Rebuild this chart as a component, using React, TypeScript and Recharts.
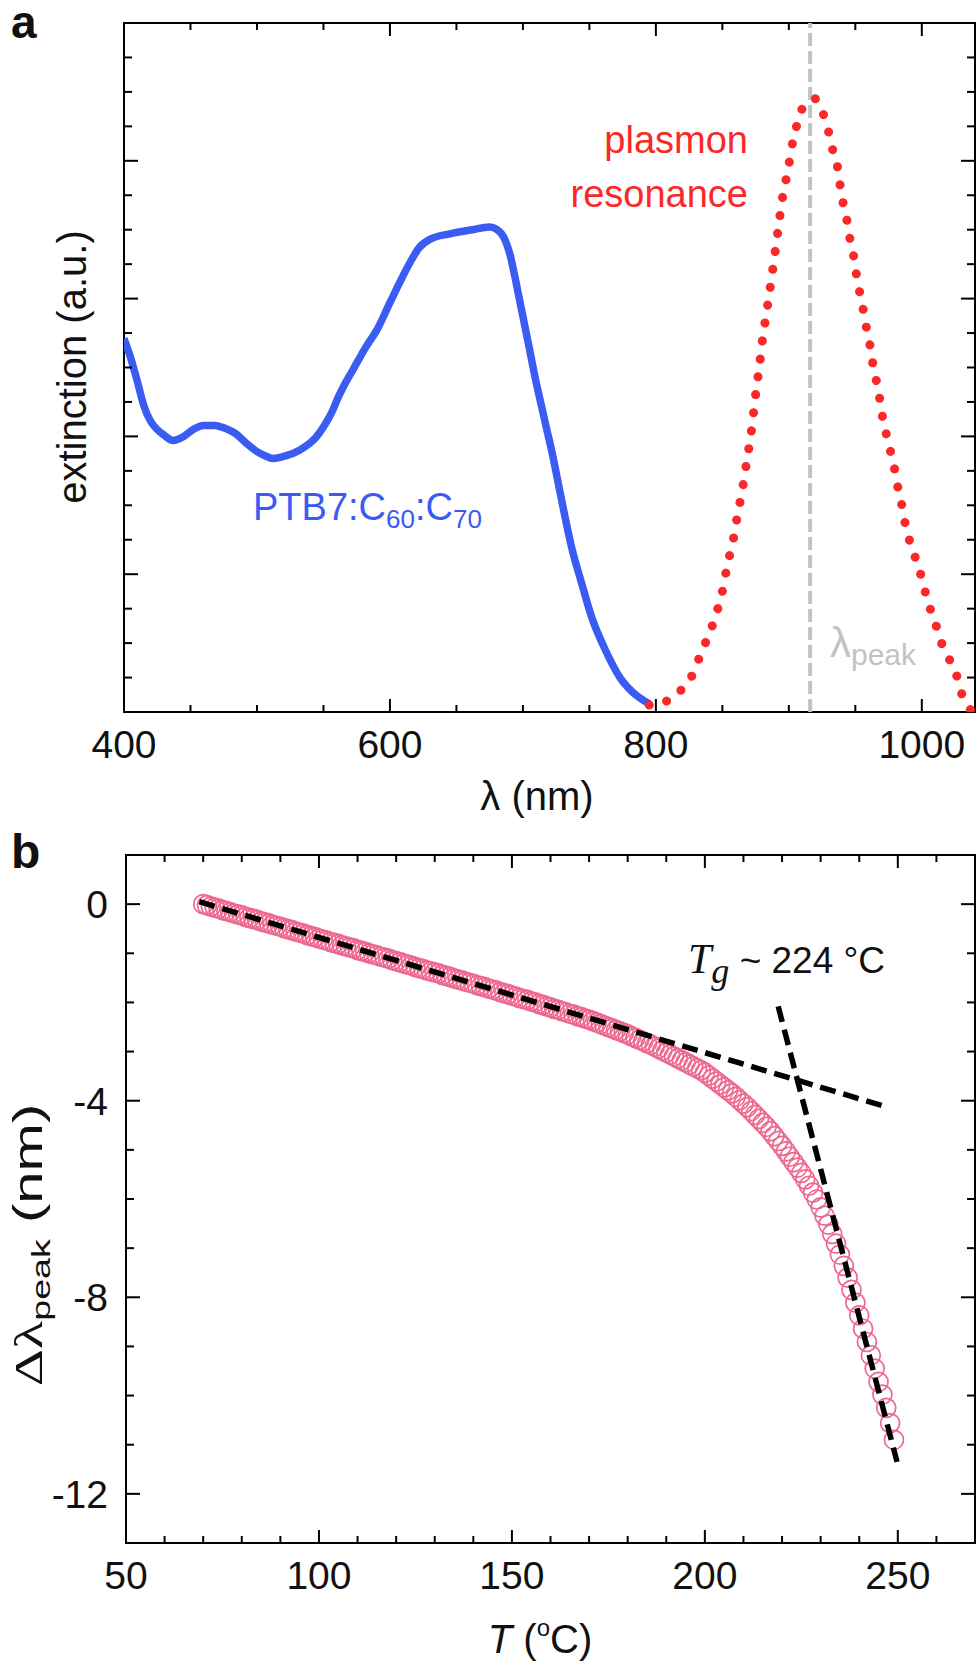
import React from 'react';
import { ComposedChart, Line, Scatter, XAxis, YAxis, ReferenceLine, ReferenceArea } from 'recharts';

const FONT = '"Liberation Sans", Arial, sans-serif';
const SERIF = '"Liberation Serif", "Times New Roman", serif';
const BLUE = '#3b5cf2';
const RED = '#fa2828';
const GREY = '#bfc3c7';
const PINK = '#ee6890';

// ---- panel a: extinction spectrum ----
const blueNm = [400, 405, 410, 415, 420, 425, 430, 437, 445, 452, 460, 468, 476, 484, 492, 500, 506, 512, 522, 532, 545, 552, 557, 560, 565, 572, 582, 590, 600, 607, 615, 622, 630, 645, 662, 675, 683, 690, 695, 700, 705, 710, 714, 717, 722, 727, 732, 737, 744, 752, 762, 773, 783, 795];
const blueExt = [2.71, 2.57, 2.40, 2.22, 2.11, 2.05, 2.01, 1.97, 2.00, 2.05, 2.08, 2.08, 2.06, 2.02, 1.95, 1.89, 1.86, 1.84, 1.86, 1.90, 2.00, 2.10, 2.19, 2.26, 2.36, 2.48, 2.65, 2.77, 2.97, 3.11, 3.26, 3.37, 3.43, 3.47, 3.50, 3.52, 3.48, 3.33, 3.11, 2.87, 2.63, 2.39, 2.22, 2.09, 1.88, 1.64, 1.40, 1.18, 0.94, 0.68, 0.45, 0.25, 0.14, 0.06];

const redNm = [795, 800, 804, 810, 814, 818, 823, 829, 834, 839, 844, 848, 851, 853, 856, 859, 861, 864, 866, 868, 870, 872, 874, 876, 878, 880, 882, 884, 886, 888, 890, 893, 895, 897, 900, 902, 905, 908, 912, 916, 920, 925, 929, 932, 936, 938, 940, 943, 945, 948, 950, 952, 955, 957, 960, 962, 964, 967, 969, 971, 974, 977, 980, 982, 985, 987, 990, 994, 998, 1001, 1004, 1007, 1011, 1014, 1019, 1022, 1026, 1029, 1034, 1037];
const redExt = [0.05, 0.05, 0.06, 0.09, 0.11, 0.15, 0.20, 0.30, 0.43, 0.54, 0.67, 0.80, 0.92, 1.03, 1.16, 1.29, 1.41, 1.56, 1.67, 1.80, 1.92, 2.05, 2.22, 2.38, 2.52, 2.69, 2.82, 2.95, 3.08, 3.22, 3.36, 3.58, 3.72, 3.82, 3.97, 4.09, 4.22, 4.33, 4.41, 4.44, 4.45, 4.36, 4.25, 4.11, 3.99, 3.86, 3.73, 3.61, 3.48, 3.35, 3.23, 3.10, 2.98, 2.85, 2.72, 2.60, 2.48, 2.35, 2.23, 2.11, 1.99, 1.87, 1.74, 1.63, 1.50, 1.39, 1.27, 1.15, 1.04, 0.93, 0.82, 0.73, 0.62, 0.52, 0.43, 0.35, 0.27, 0.16, 0.06, 0.01];

const peakNm = 916;
const aXTicks = [400, 450, 500, 550, 600, 650, 700, 750, 800, 850, 900, 950, 1000];
const aYTicks = [0.25, 0.5, 0.75, 1, 1.25, 1.5, 1.75, 2, 2.25, 2.5, 2.75, 3, 3.25, 3.5, 3.75, 4, 4.25, 4.5, 4.75];

// ---- panel b: peak shift vs temperature, one reading per degree ----
const shiftT = [
  70, 71, 72, 73, 74, 75, 76, 77, 78, 79, 80, 81, 82, 83, 84, 85, 86, 87, 88, 89,
  90, 91, 92, 93, 94, 95, 96, 97, 98, 99, 100, 101, 102, 103, 104, 105, 106, 107, 108, 109,
  110, 111, 112, 113, 114, 115, 116, 117, 118, 119, 120, 121, 122, 123, 124, 125, 126, 127, 128, 129,
  130, 131, 132, 133, 134, 135, 136, 137, 138, 139, 140, 141, 142, 143, 144, 145, 146, 147, 148, 149,
  150, 151, 152, 153, 154, 155, 156, 157, 158, 159, 160, 161, 162, 163, 164, 165, 166, 167, 168, 169,
  170, 171, 172, 173, 174, 175, 176, 177, 178, 179, 180, 181, 182, 183, 184, 185, 186, 187, 188, 189,
  190, 191, 192, 193, 194, 195, 196, 197, 198, 199, 200, 201, 202, 203, 204, 205, 206, 207, 208, 209,
  210, 211, 212, 213, 214, 215, 216, 217, 218, 219, 220, 221, 222, 223, 224, 225, 226, 227, 228, 229,
  230, 231, 232, 233, 234, 235, 236, 237, 238, 239, 240, 241, 242, 243, 244, 245, 246, 247, 248, 249,
];
const shiftNm = [
  0.00, -0.02, -0.05, -0.07, -0.09, -0.12, -0.14, -0.16, -0.19, -0.21, -0.23, -0.26, -0.28, -0.30, -0.32, -0.35, -0.37, -0.39, -0.42, -0.44,
  -0.46, -0.49, -0.51, -0.53, -0.56, -0.58, -0.60, -0.63, -0.65, -0.67, -0.70, -0.72, -0.74, -0.77, -0.79, -0.81, -0.84, -0.86, -0.88, -0.90,
  -0.93, -0.95, -0.97, -1.00, -1.02, -1.04, -1.07, -1.09, -1.11, -1.14, -1.16, -1.18, -1.21, -1.23, -1.25, -1.28, -1.30, -1.32, -1.35, -1.37,
  -1.39, -1.41, -1.44, -1.46, -1.48, -1.51, -1.53, -1.55, -1.58, -1.60, -1.62, -1.65, -1.67, -1.69, -1.72, -1.74, -1.76, -1.79, -1.81, -1.83,
  -1.86, -1.88, -1.91, -1.93, -1.95, -1.98, -2.00, -2.03, -2.05, -2.08, -2.10, -2.13, -2.15, -2.18, -2.20, -2.23, -2.25, -2.28, -2.30, -2.33,
  -2.35, -2.38, -2.41, -2.44, -2.47, -2.50, -2.53, -2.56, -2.59, -2.62, -2.65, -2.69, -2.72, -2.76, -2.79, -2.83, -2.86, -2.90, -2.94, -2.98,
  -3.02, -3.06, -3.10, -3.14, -3.18, -3.22, -3.26, -3.30, -3.34, -3.38, -3.43, -3.49, -3.55, -3.61, -3.67, -3.73, -3.79, -3.85, -3.92, -3.99,
  -4.06, -4.13, -4.21, -4.29, -4.37, -4.45, -4.53, -4.62, -4.72, -4.82, -4.92, -5.03, -5.14, -5.25, -5.36, -5.47, -5.60, -5.73, -5.87, -6.01,
  -6.17, -6.34, -6.52, -6.71, -6.91, -7.13, -7.36, -7.60, -7.85, -8.11, -8.37, -8.64, -8.91, -9.18, -9.45, -9.72, -9.98, -10.25, -10.56, -10.90,
];

const fitLowT = [69, 246];
const fitLowV = [0.05, -4.1];
const fitHighT = [219, 249.8];
const fitHighV = [-2.08, -11.35];

const bXTicks = [50, 60, 70, 80, 90, 100, 110, 120, 130, 140, 150, 160, 170, 180, 190, 200, 210, 220, 230, 240, 250, 260];
const bYTicks = [-12, -11, -10, -9, -8, -7, -6, -5, -4, -3, -2, -1, 0];

const zip = (xs: number[], ys: number[]) => xs.map((x, i) => ({ x, v: ys[i] }));

const blueData = zip(blueNm, blueExt);
const redData = zip(redNm, redExt);
const shiftData = zip(shiftT, shiftNm);
const fitLowData = zip(fitLowT, fitLowV);
const fitHighData = zip(fitHighT, fitHighV);

type TickOpts = { major: (v: number) => boolean; mirror: number; label: boolean };

// ticks point inward, and are repeated on the opposite frame side
const xTick = (o: TickOpts) => (props: any) => {
  const { x, y, payload } = props;
  const v = payload.value;
  const big = o.major(v);
  const len = big ? 13 : 7;
  return (
    <g>
      <line x1={x} x2={x} y1={y} y2={y - len} stroke="#000" strokeWidth={2} />
      <line x1={x} x2={x} y1={o.mirror} y2={o.mirror + len} stroke="#000" strokeWidth={2} />
      {o.label && big && (
        <text x={x} y={y + 46} textAnchor="middle" fontSize={39} fontFamily={FONT} fill="#111">{v}</text>
      )}
    </g>
  );
};

const yTick = (o: TickOpts) => (props: any) => {
  const { x, y, payload } = props;
  const v = payload.value;
  const big = o.major(v);
  const len = big ? 14 : 8;
  return (
    <g>
      <line x1={x} x2={x + len} y1={y} y2={y} stroke="#000" strokeWidth={2} />
      <line x1={o.mirror} x2={o.mirror - len} y1={y} y2={y} stroke="#000" strokeWidth={2} />
      {o.label && big && (
        <text x={x - 18} y={y} dy="0.36em" textAnchor="end" fontSize={39} fontFamily={FONT} fill="#111">{v}</text>
      )}
    </g>
  );
};

function PanelA() {
  return (
    <ComposedChart width={980} height={830} margin={{ top: 23, right: 5, bottom: 0, left: 0 }}>
      <XAxis
        type="number"
        dataKey="x"
        domain={[400, 1040]}
        ticks={aXTicks}
        interval={0}
        allowDataOverflow
        tickSize={0}
        tickMargin={0}
        tickLine={false}
        axisLine={false}
        height={118}
        tick={xTick({ major: (v) => v % 200 === 0, mirror: 23, label: true })}
      />
      <YAxis
        type="number"
        dataKey="v"
        domain={[0, 5]}
        ticks={aYTicks}
        interval={0}
        allowDataOverflow
        tickSize={0}
        tickMargin={0}
        tickLine={false}
        axisLine={false}
        width={124}
        tick={yTick({ major: (v) => Number.isInteger(v), mirror: 975, label: false })}
      />
      <ReferenceLine x={peakNm} stroke={GREY} strokeWidth={4} strokeDasharray="13 5" />
      <Line
        data={blueData}
        dataKey="v"
        type="monotone"
        stroke={BLUE}
        strokeWidth={7.5}
        dot={false}
        isAnimationActive={false}
      />
      <Line
        data={redData}
        dataKey="v"
        type="monotone"
        stroke={RED}
        strokeWidth={9}
        strokeDasharray="0.1 18"
        strokeLinecap="round"
        dot={false}
        isAnimationActive={false}
      />
      <ReferenceArea x1={400} x2={1040} y1={0} y2={5} fill="none" stroke="#000" strokeWidth={2} />
    </ComposedChart>
  );
}

const B_MARGIN = { top: 25, right: 5, bottom: 0, left: 0 };

function PanelB() {
  return (
    <ComposedChart width={980} height={831} margin={B_MARGIN}>
      <XAxis
        type="number"
        dataKey="x"
        domain={[50, 270]}
        ticks={bXTicks}
        interval={0}
        allowDataOverflow
        tickSize={0}
        tickMargin={0}
        tickLine={false}
        axisLine={false}
        height={118}
        tick={xTick({ major: (v) => v % 50 === 0, mirror: 25, label: true })}
      />
      <YAxis
        type="number"
        dataKey="v"
        domain={[-13, 1]}
        ticks={bYTicks}
        interval={0}
        allowDataOverflow
        tickSize={0}
        tickMargin={0}
        tickLine={false}
        axisLine={false}
        width={126}
        tick={yTick({ major: (v) => v % 4 === 0, mirror: 975, label: true })}
      />
      <Scatter
        data={shiftData}
        dataKey="v"
        isAnimationActive={false}
        shape={(p: any) => <circle cx={p.cx} cy={p.cy} r={9.5} fill="none" stroke={PINK} strokeWidth={1.7} />}
      />
      <ReferenceArea x1={50} x2={270} y1={-13} y2={1} fill="none" stroke="#000" strokeWidth={2} />
    </ComposedChart>
  );
}

// fit lines sit above the circles, same scales as PanelB
function PanelBFits() {
  return (
    <ComposedChart width={980} height={831} margin={B_MARGIN}>
      <XAxis type="number" dataKey="x" domain={[50, 270]} allowDataOverflow tick={false} tickLine={false} axisLine={false} height={118} />
      <YAxis type="number" dataKey="v" domain={[-13, 1]} allowDataOverflow tick={false} tickLine={false} axisLine={false} width={126} />
      <Line
        data={fitLowData}
        dataKey="v"
        type="linear"
        stroke="#000"
        strokeWidth={5.5}
        strokeDasharray="16 8"
        dot={false}
        isAnimationActive={false}
      />
      <Line
        data={fitHighData}
        dataKey="v"
        type="linear"
        stroke="#000"
        strokeWidth={5.5}
        strokeDasharray="16 8"
        dot={false}
        isAnimationActive={false}
      />
    </ComposedChart>
  );
}

export default function App() {
  return (
    <div style={{ position: 'relative', width: 980, height: 1661, background: '#fff' }}>
      <style>{'body{margin:0;background:#fff}'}</style>
      <div style={{ position: 'absolute', left: 0, top: 0 }}>
        <PanelA />
      </div>
      <div style={{ position: 'absolute', left: 0, top: 830 }}>
        <PanelB />
      </div>
      <div style={{ position: 'absolute', left: 0, top: 830 }}>
        <PanelBFits />
      </div>
      <svg
        width={980}
        height={1661}
        style={{ position: 'absolute', left: 0, top: 0, pointerEvents: 'none' }}
        fontFamily={FONT}
      >
        <text x={11} y={38} fontSize={46} fontWeight="bold" fill="#111">a</text>
        <text x={11} y={868} fontSize={48} fontWeight="bold" fill="#111">b</text>

        <text transform="translate(86,367) rotate(-90)" textAnchor="middle" fontSize={40} fill="#111">
          extinction (a.u.)
        </text>
        <text x={537} y={810} textAnchor="middle" fontSize={40} fill="#111">λ (nm)</text>
        <text x={748} y={153} textAnchor="end" fontSize={38} fill={RED}>plasmon</text>
        <text x={748} y={207} textAnchor="end" fontSize={38} fill={RED}>resonance</text>
        <text x={253} y={520} fontSize={38} fill={BLUE}>
          PTB7:C<tspan fontSize={26} dy={8}>60</tspan>
          <tspan dy={-8}>:C</tspan>
          <tspan fontSize={26} dy={8}>70</tspan>
        </text>
        <text x={830} y={657} fontSize={42} fill={GREY}>
          λ<tspan fontSize={30} dy={8}>peak</tspan>
        </text>

        <text x={688} y={973} fontSize={42} fill="#111">
          <tspan fontFamily={SERIF} fontStyle="italic">T</tspan>
          <tspan fontFamily={SERIF} fontStyle="italic" fontSize={36} dy={10}>g</tspan>
          <tspan fontSize={37} dy={-10}> ~ 224 °C</tspan>
        </text>
        <text transform="translate(42,1245) rotate(-90) scale(1.45,1)" textAnchor="middle" fontSize={40} fill="#111">
          <tspan fontFamily={SERIF}>Δλ</tspan>
          <tspan fontSize={26} dy={8}>peak</tspan>
          <tspan dy={-8}> (nm)</tspan>
        </text>
        <text x={540} y={1653} textAnchor="middle" fontSize={40} fill="#111">
          <tspan fontStyle="italic">T</tspan> (<tspan fontSize={24} dy={-17}>o</tspan>
          <tspan dy={17}>C)</tspan>
        </text>
      </svg>
    </div>
  );
}
